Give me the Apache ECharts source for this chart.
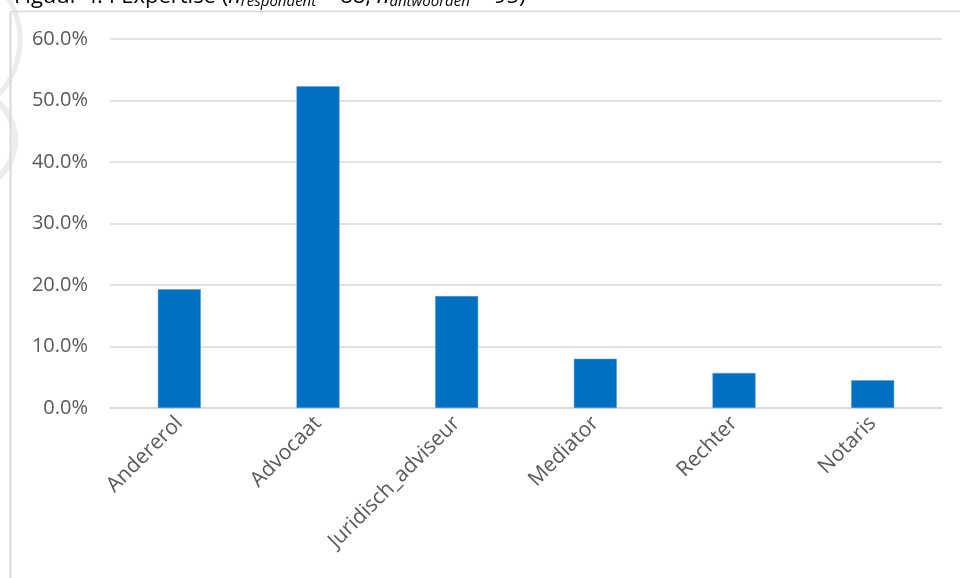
<!DOCTYPE html>
<html>
<head>
<meta charset="utf-8">
<script src="https://cdn.jsdelivr.net/npm/echarts@6/dist/echarts.min.js"></script>
<style>html,body{margin:0;padding:0;background:#fff}#c{width:960px;height:578px}</style>
</head>
<body>
<div id="c"></div>
<script>
const categories = ['Andererol', 'Advocaat', 'Juridisch_adviseur', 'Mediator', 'Rechter', 'Notaris'];
const values = [19.3, 52.3, 18.2, 8.0, 5.7, 4.5];
const yTicks = [0, 10, 20, 30, 40, 50, 60];

const chart = echarts.init(document.getElementById('c'), null, {renderer: 'canvas'});
const font = '"Open Sans", "Segoe UI", sans-serif';
chart.setOption({
  animation: false,
  backgroundColor: '#fff',
  graphic: [
    {type: 'line', shape: {x1: 10.5, y1: 12, x2: 10.5, y2: 578}, style: {stroke: '#d9d9d9', lineWidth: 2}, z: -1},
    {type: 'line', shape: {x1: 10, y1: 11.5, x2: 960, y2: 11.5}, style: {stroke: '#d9d9d9', lineWidth: 1.5}, z: -1},
    {type: 'arc', shape: {cx: -35, cy: 140, r: 50, startAngle: -1.3, endAngle: 1.3}, style: {stroke: '#ececec', lineWidth: 6, fill: null}, z: -2},
    {type: 'arc', shape: {cx: -60, cy: 40, r: 80, startAngle: -0.6, endAngle: 0.9}, style: {stroke: '#ececec', lineWidth: 5, fill: null}, z: -2},
    {type: 'text', left: 14, top: -14, style: {
      text: '{n|Figuur 4.4 Expertise (}{i|n}{s|respondent}{n| = 88, }{i|n}{s|antwoorden}{n| = 95)}',
      rich: {
        n: {fontSize: 22, fontFamily: font, fill: '#000'},
        i: {fontSize: 22, fontFamily: font, fill: '#000', fontStyle: 'italic'},
        s: {fontSize: 15, fontFamily: font, fill: '#000', fontStyle: 'italic', verticalAlign: 'bottom', padding: [10, 0, 0, 0]}
      }
    }}
  ],
  grid: {left: 110, right: 18, top: 39, bottom: 170, containLabel: false},
  xAxis: {
    type: 'category',
    data: categories,
    axisLine: {show: true, lineStyle: {color: '#d9d9d9', width: 1.5}},
    axisTick: {show: false},
    axisLabel: {rotate: 45, color: '#595959', fontSize: 21, fontFamily: font, margin: 12, interval: 0}
  },
  yAxis: {
    type: 'value',
    min: 0, max: 60, interval: 10,
    axisLine: {show: false},
    axisTick: {show: false},
    splitLine: {lineStyle: {color: '#d9d9d9', width: 1.5}},
    axisLabel: {color: '#595959', fontSize: 20, fontFamily: font, margin: 22,
      formatter: v => yTicks.includes(v) ? v.toFixed(1) + '%' : ''}
  },
  series: [{
    type: 'bar',
    data: values,
    barWidth: 43,
    itemStyle: {color: '#0070c0', borderColor: '#5b9bd5', borderWidth: 0.5}
  }]
});
</script>
</body>
</html>
